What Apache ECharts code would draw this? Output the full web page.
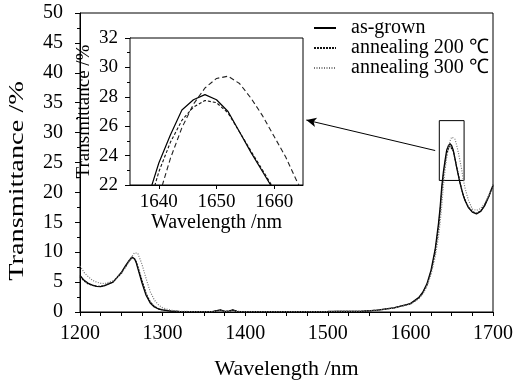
<!DOCTYPE html>
<html>
<head>
<meta charset="utf-8">
<script src="https://cdn.jsdelivr.net/npm/echarts@6/dist/echarts.min.js"></script>
<style>
html, body { margin: 0; padding: 0; background: #fff; }
#chart { width: 516px; height: 385px; }
</style>
</head>
<body>
<div id="chart"></div>
<script>
// wavelength (nm) and transmittance (%)
var wavelength = [
    1200, 1205, 1210, 1215, 1220, 1225, 1230, 1240, 1250, 1255,
    1260, 1263, 1266, 1268, 1270, 1275, 1280, 1285, 1290, 1295,
    1300, 1310, 1320, 1340, 1360, 1370, 1375, 1380, 1385, 1390,
    1400, 1450, 1500, 1540, 1560, 1580, 1600, 1610, 1615, 1620,
    1625, 1630, 1634, 1636, 1638, 1640, 1642, 1644, 1646, 1648,
    1650, 1652, 1654, 1656, 1658, 1660, 1662, 1664, 1666, 1670,
    1675, 1680, 1685, 1690, 1695, 1700
];
var asGrown = [
    6.1, 5.3, 4.8, 4.5, 4.3, 4.25, 4.4, 5.0, 6.6, 7.7,
    8.7, 9.2, 8.9, 8.3, 7.3, 4.9, 2.8, 1.5, 0.85, 0.5,
    0.35, 0.15, 0.08, 0.05, 0.05, 0.35, 0.1, 0.15, 0.35, 0.1,
    0.05, 0.05, 0.08, 0.12, 0.3, 0.7, 1.4, 2.4, 3.3, 4.7,
    7.0, 10.5, 14.8, 17.5, 21.0, 23.5, 25.4, 27.1, 27.8, 28.15,
    27.8, 27.0, 25.6, 24.2, 22.9, 21.6, 20.5, 19.5, 18.7, 17.5,
    16.7, 16.4, 16.8, 17.8, 19.3, 21.2
];
var anneal200 = [
    5.9, 5.2, 4.7, 4.45, 4.3, 4.3, 4.45, 5.05, 6.5, 7.6,
    8.6, 9.0, 8.9, 8.4, 7.6, 5.3, 3.1, 1.7, 0.95, 0.55,
    0.35, 0.15, 0.08, 0.05, 0.05, 0.3, 0.1, 0.15, 0.3, 0.1,
    0.05, 0.05, 0.08, 0.12, 0.3, 0.7, 1.35, 2.3, 3.2, 4.5,
    6.7, 10.0, 14.0, 16.8, 20.2, 22.9, 24.9, 26.4, 27.3, 27.75,
    27.6, 26.9, 25.6, 24.3, 23.0, 21.7, 20.6, 19.6, 18.8, 17.6,
    16.8, 16.5, 16.9, 17.9, 19.4, 21.3
];
var anneal300 = [
    7.7, 6.6, 5.9, 5.3, 5.0, 4.8, 4.75, 5.2, 6.4, 7.4,
    8.6, 9.3, 9.9, 10.1, 9.8, 8.0, 5.6, 3.4, 2.0, 1.2,
    0.7, 0.3, 0.12, 0.06, 0.05, 0.2, 0.1, 0.1, 0.2, 0.08,
    0.05, 0.05, 0.08, 0.12, 0.3, 0.65, 1.3, 2.2, 3.0, 4.3,
    6.3, 9.2, 12.6, 15.0, 17.8, 21.2, 23.8, 25.9, 27.5, 28.6,
    29.25, 29.4, 28.9, 27.9, 26.7, 25.3, 23.9, 22.2, 20.8, 18.8,
    17.2, 17.0, 17.3, 18.2, 19.6, 21.3
];
var seriesNames = ['as-grown', 'annealing 200 ℃', 'annealing 300 ℃'];
var insetTicks = [1640, 1650, 1660];

var FONT = 'Liberation Serif';

function pairs(ys) {
    var out = [];
    for (var i = 0; i < wavelength.length; i++) {
        out.push([wavelength[i], ys[i]]);
    }
    return out;
}

function plain(v) {
    return String(v);
}

function axisBase(extra) {
    var base = {
        type: 'value',
        splitLine: {show: false},
        axisLine: {show: true, onZero: false, lineStyle: {color: '#000', width: 1}},
        axisTick: {show: true, inside: false, length: 5, lineStyle: {color: '#000', width: 1}},
        minorTick: {show: true, length: 3, lineStyle: {color: '#000', width: 1}},
        axisLabel: {color: '#000', fontFamily: FONT, fontSize: 20, formatter: plain},
        nameTextStyle: {color: '#000', fontFamily: FONT, fontSize: 20}
    };
    for (var k in extra) {
        if (typeof extra[k] === 'object' && base[k] && !Array.isArray(extra[k])) {
            for (var j in extra[k]) base[k][j] = extra[k][j];
        } else {
            base[k] = extra[k];
        }
    }
    return base;
}

var mainStyles = [
    {color: '#000', width: 1.3, type: 'solid'},
    {color: '#111', width: 1.2, type: [2, 1]},
    {color: '#777', width: 1.2, type: [1, 1.5]}
];
var insetStyles = [
    {color: '#000', width: 1.2, type: 'solid'},
    {color: '#111', width: 1.1, type: [3, 2]},
    {color: '#222', width: 1.1, type: [5, 3]}
];
var values = [asGrown, anneal200, anneal300];

var series = [];
for (var s = 0; s < 3; s++) {
    series.push({
        name: seriesNames[s],
        type: 'line',
        xAxisIndex: 0,
        yAxisIndex: 0,
        data: pairs(values[s]),
        symbol: 'none',
        showSymbol: false,
        legendIcon: 'path://M0,0L1,0',
        lineStyle: mainStyles[s],
        itemStyle: {color: mainStyles[s].color},
        z: 3
    });
}
for (var t = 0; t < 3; t++) {
    series.push({
        name: 'inset ' + seriesNames[t],
        type: 'line',
        xAxisIndex: 1,
        yAxisIndex: 1,
        data: pairs(values[t]),
        symbol: 'none',
        showSymbol: false,
        clip: true,
        lineStyle: insetStyles[t],
        z: 5
    });
}

// zoom box around the peak and the arrow pointing to the inset
series[0].markArea = {
    silent: true,
    itemStyle: {color: 'rgba(0,0,0,0)', borderColor: '#000', borderWidth: 1},
    data: [[{coord: [1635, 22]}, {coord: [1665, 32]}]]
};
series[0].markLine = {
    silent: true,
    symbol: ['none', 'arrow'],
    symbolSize: [7, 10],
    label: {show: false},
    lineStyle: {color: '#000', width: 1, type: 'solid'},
    data: [[{coord: [1630, 27]}, {coord: [1474, 32.1]}]]
};

var chart = echarts.init(document.getElementById('chart'));
chart.setOption({
    animation: false,
    backgroundColor: '#fff',
    grid: [
        {left: 80, right: 23, top: 13, bottom: 71, show: true, borderColor: '#000', borderWidth: 1, backgroundColor: 'transparent'},
        {left: 130, width: 173, top: 38, height: 147, show: true, borderColor: '#000', borderWidth: 1, backgroundColor: '#fff', z: 4}
    ],
    legend: {
        orient: 'vertical',
        left: 313,
        top: 18,
        padding: 0,
        itemGap: 0,
        itemWidth: 22,
        itemHeight: 10,
        itemStyle: {opacity: 0},
        data: seriesNames,
        textStyle: {color: '#000', fontFamily: FONT, fontSize: 20, lineHeight: 18, padding: [0, 0, 0, 10]}
    },
    xAxis: [
        axisBase({
            gridIndex: 0, min: 1200, max: 1700, interval: 100,
            axisTick: {length: 4},
            minorTick: {splitNumber: 4, length: 4},
            axisLabel: {margin: 12},
            name: 'Wavelength /nm', nameLocation: 'middle', nameGap: 46,
            nameTextStyle: {fontSize: 22}
        }),
        axisBase({
            gridIndex: 1, min: 1635, max: 1665,
            axisTick: {length: 4, customValues: insetTicks},
            minorTick: {show: false},
            axisLabel: {margin: 8, fontSize: 19, customValues: insetTicks},
            name: 'Wavelength /nm', nameLocation: 'middle', nameGap: 27
        })
    ],
    yAxis: [
        axisBase({
            gridIndex: 0, min: 0, max: 50, interval: 5,
            minorTick: {splitNumber: 2},
            axisLabel: {margin: 17}
        }),
        axisBase({
            gridIndex: 1, min: 22, max: 32, interval: 2,
            minorTick: {splitNumber: 2},
            axisLabel: {margin: 12, fontSize: 19},
            name: 'Transmittance /%', nameLocation: 'middle', nameGap: 36,
            nameTextStyle: {fontSize: 19}
        })
    ],
    graphic: [{
        type: 'text',
        x: 17,
        y: 181,
        rotation: Math.PI / 2,
        scaleX: 1.35,
        style: {
            text: 'Transmittance /%',
            font: '21px "Liberation Serif"',
            fill: '#000',
            textAlign: 'center',
            textVerticalAlign: 'middle'
        }
    }],
    series: series
});
</script>
</body>
</html>
